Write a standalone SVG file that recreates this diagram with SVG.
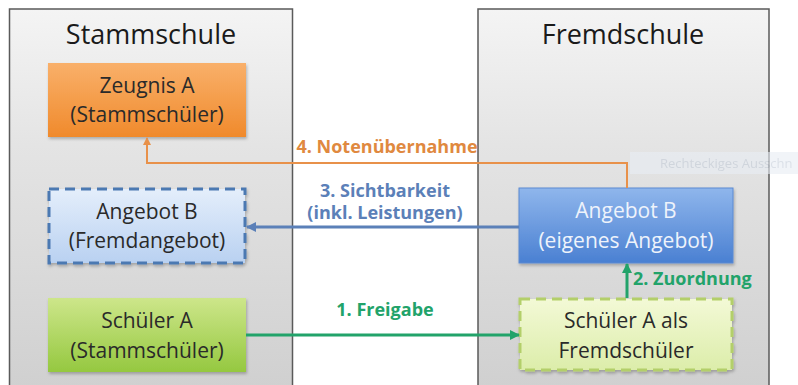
<svg xmlns="http://www.w3.org/2000/svg" width="798" height="385" viewBox="0 0 798 385">
<defs>
<linearGradient id="gPanel" x1="0" y1="0" x2="0" y2="1"><stop offset="0" stop-color="#f4f4f4"/><stop offset="0.35" stop-color="#e4e4e4"/><stop offset="1" stop-color="#cfcfcf"/></linearGradient>
<linearGradient id="gOrange" x1="0" y1="0" x2="0" y2="1"><stop offset="0" stop-color="#f9b06a"/><stop offset="1" stop-color="#f08a2c"/></linearGradient>
<linearGradient id="gLightBlue" x1="0" y1="0" x2="0" y2="1"><stop offset="0" stop-color="#e4eefb"/><stop offset="1" stop-color="#b9d1f1"/></linearGradient>
<linearGradient id="gBlue" x1="0" y1="0" x2="0" y2="1"><stop offset="0" stop-color="#8fb6ec"/><stop offset="1" stop-color="#4a80d2"/></linearGradient>
<linearGradient id="gGreen" x1="0" y1="0" x2="0" y2="1"><stop offset="0" stop-color="#cde68a"/><stop offset="1" stop-color="#95c840"/></linearGradient>
<linearGradient id="gLightGreen" x1="0" y1="0" x2="0" y2="1"><stop offset="0" stop-color="#f3f9d6"/><stop offset="1" stop-color="#dcedaa"/></linearGradient>
<filter id="sh" x="-10%" y="-10%" width="120%" height="130%"><feDropShadow dx="1" dy="2" stdDeviation="1.5" flood-color="#000" flood-opacity="0.25"/></filter>
<marker id="aO" markerWidth="8" markerHeight="8" refX="7" refY="4" orient="auto" markerUnits="userSpaceOnUse"><path d="M0,0 L8,4 L0,8 Z" fill="#e8914a"/></marker>
<marker id="aB" markerWidth="10" markerHeight="10" refX="9" refY="5" orient="auto" markerUnits="userSpaceOnUse"><path d="M0,0 L10,5 L0,10 Z" fill="#5b80b8"/></marker>
<marker id="aG" markerWidth="10" markerHeight="10" refX="9" refY="5" orient="auto" markerUnits="userSpaceOnUse"><path d="M0,0 L10,5 L0,10 Z" fill="#22a36a"/></marker>
</defs>
<style>
.panel{fill:url(#gPanel);stroke:#5a5a5a;stroke-width:1.5}
.title{font-family:"Open Sans","Noto Sans",sans-serif;font-size:27px;fill:#1a1a1a;text-anchor:middle}
.t{font-family:"Open Sans","Noto Sans",sans-serif;font-size:21px;fill:#2a2a2a;text-anchor:middle}
.lbl{font-family:"Open Sans","Noto Sans",sans-serif;font-size:18px;font-weight:bold}
.conn{fill:none}
</style>
<g id="stammschule">
<rect class="panel" x="9.5" y="9" width="283" height="390"/>
<text class="title" x="151" y="44">Stammschule</text>
</g>
<g id="fremdschule">
<rect class="panel" x="478" y="9" width="291" height="390"/>
<text class="title" x="623" y="44">Fremdschule</text>
</g>
<g id="tooltip" opacity="0.6">
<rect x="630" y="152" width="168" height="22" fill="#e9eef5"/>
<text x="660" y="168" font-family="Open Sans, sans-serif" font-size="13" fill="#c4cdd9">Rechteckiges Ausschn</text>
</g>
<g id="zeugnisA">
<rect x="48" y="63" width="198" height="74" fill="url(#gOrange)" filter="url(#sh)"/>
<text class="t" x="147" y="93">Zeugnis A</text>
<text class="t" x="147" y="122">(Stammschüler)</text>
</g>
<g id="angebotB-fremd">
<rect x="49" y="189" width="196" height="74" fill="url(#gLightBlue)" stroke="#4c79b2" stroke-width="3" stroke-dasharray="10 6" filter="url(#sh)"/>
<text class="t" x="147" y="219">Angebot B</text>
<text class="t" x="147" y="248">(Fremdangebot)</text>
</g>
<g id="schuelerA">
<rect x="48" y="298" width="198" height="74" fill="url(#gGreen)" filter="url(#sh)"/>
<text class="t" x="147" y="328">Schüler A</text>
<text class="t" x="147" y="358">(Stammschüler)</text>
</g>
<g id="angebotB-eigen">
<rect x="519" y="188" width="214" height="75" fill="url(#gBlue)" stroke="#5b8ad2" stroke-width="1" filter="url(#sh)"/>
<text class="t" x="626" y="218" style="fill:#eef3fb">Angebot B</text>
<text class="t" x="626" y="248" style="fill:#eef3fb">(eigenes Angebot)</text>
</g>
<g id="schuelerA-fremd">
<rect x="520" y="299" width="212" height="71" fill="url(#gLightGreen)" stroke="#b3cf6a" stroke-width="3" stroke-dasharray="10 6" filter="url(#sh)"/>
<text class="t" x="626" y="328">Schüler A als</text>
<text class="t" x="626" y="358">Fremdschüler</text>
</g>
<g id="connectors">
<path class="conn" d="M627,188 V163 H147 V138" stroke="#e8914a" stroke-width="2" marker-end="url(#aO)"/>
<text class="lbl" x="387" y="153" fill="#e0893f" text-anchor="middle">4. Notenübernahme</text>
<path class="conn" d="M519,227 H247" stroke="#5b80b8" stroke-width="3" marker-end="url(#aB)"/>
<text class="lbl" x="385" y="197" fill="#5b80b8" text-anchor="middle">3. Sichtbarkeit</text>
<text class="lbl" x="385" y="219" fill="#5b80b8" text-anchor="middle">(inkl. Leistungen)</text>
<path class="conn" d="M246,335 H519" stroke="#22a36a" stroke-width="3" marker-end="url(#aG)"/>
<text class="lbl" x="385" y="316" fill="#22a36a" text-anchor="middle">1. Freigabe</text>
<path class="conn" d="M627,298 V264" stroke="#22a36a" stroke-width="3" marker-end="url(#aG)"/>
<text class="lbl" x="633" y="285" fill="#22a36a">2. Zuordnung</text>
</g>
</svg>
